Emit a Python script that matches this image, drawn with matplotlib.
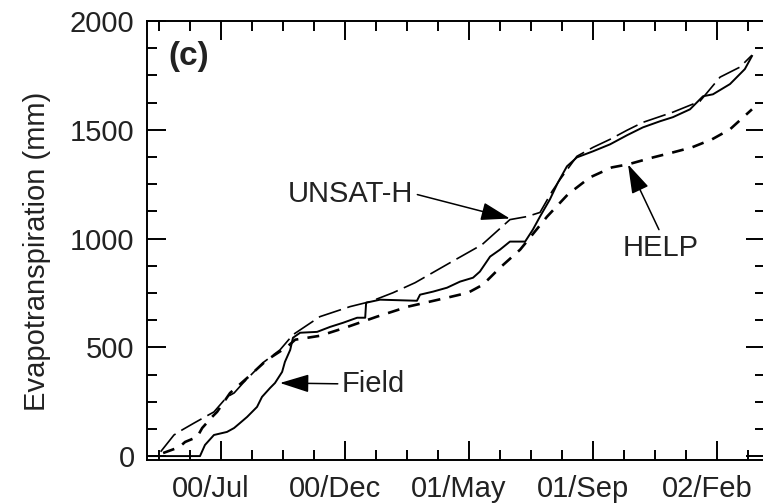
import numpy as np
import matplotlib
matplotlib.use('Agg')
import matplotlib.pyplot as plt
import matplotlib.transforms as mtransforms
from matplotlib.ticker import MultipleLocator

plt.rcParams['font.family'] = ['Liberation Sans', 'DejaVu Sans']

# months counted from 00/Jul (x = 0), cumulative ET in mm
field_t = [-2.29, -0.68, -0.52, -0.23, 0.19, 0.42, 0.61, 0.84, 1.16, 1.32, 1.58, 1.74,
           1.97, 2.06, 2.23, 2.32, 2.55, 3.10, 3.52, 3.94, 4.39, 4.65, 4.68, 5.13, 6.32,
           6.42, 6.84, 7.29, 7.71, 8.13, 8.35, 8.68, 9.0, 9.32, 9.81, 10.06, 10.29, 10.61,
           10.87, 11.16, 11.48, 12.0, 12.55, 13.10, 13.61, 14.16, 14.58, 15.13, 15.55,
           15.87, 16.42, 16.9, 17.13]
field_et = [0, 0, 51, 97, 111, 129, 152, 180, 226, 272, 313, 336,
            387, 433, 488, 544, 567, 571, 594, 613, 636, 636, 705, 719, 714,
            742, 756, 774, 802, 820, 848, 917, 949, 986, 986, 1041, 1101, 1180,
            1258, 1332, 1373, 1401, 1433, 1475, 1511, 1539, 1558, 1594, 1654,
            1663, 1710, 1779, 1839]

unsat_t = [-1.95, -1.52, -1.26, -0.87, -0.23, 0.19, 0.42, 0.71, 1.35, 1.90, 2.32, 3.19,
           4.16, 4.81, 5.55, 6.26, 7.39, 8.42, 9.32, 9.87, 10.29, 10.68, 10.94, 11.48,
           12.0, 12.55, 13.10, 13.61, 14.58, 15.45, 16.1, 16.74, 17.13]
unsat_et = [20, 97, 120, 152, 203, 272, 290, 336, 429, 488, 558, 641,
            687, 710, 751, 797, 889, 972, 1087, 1101, 1120, 1217, 1272, 1378,
            1419, 1456, 1498, 1534, 1581, 1631, 1742, 1788, 1843]

help_t = [-1.87, -1.35, -1.16, -0.77, -0.61, -0.29, -0.13, 0.29, 0.84, 1.48, 2.13, 2.39,
          3.19, 4.0, 5.03, 6.03, 7.29, 7.97, 8.45, 9.0, 9.65, 10.52, 11.19, 11.9,
          12.61, 13.13, 13.94, 14.58, 15.19, 15.84, 16.42, 17.13]
help_et = [14, 41, 65, 88, 129, 180, 203, 290, 359, 442, 502, 535,
           553, 590, 641, 687, 728, 751, 788, 866, 949, 1101, 1203, 1281,
           1327, 1341, 1373, 1396, 1419, 1456, 1502, 1594]

xtick_pos = [0, 4, 8, 12, 16]
xtick_labels = ['00/Jul', '00/Dec', '01/May', '01/Sep', '02/Feb']

fig = plt.figure(figsize=(7.63, 5.04), dpi=100)
ax = fig.add_axes([147 / 763, 44 / 504, 618 / 763, 439 / 504])

ax.plot(field_t, field_et, color='k', lw=1.4)
ax.plot(unsat_t, unsat_et, color='k', lw=1.2, dashes=(14, 4))
ax.plot(help_t, help_et, color='k', lw=1.9, dashes=(4.5, 3.5))

ax.set_xlim(-2.39, 17.55)
ax.set_ylim(-18, 2000)
ax.set_xticks(xtick_pos)
ax.set_xticklabels(xtick_labels)
ax.xaxis.set_minor_locator(MultipleLocator(1))
ax.set_yticks([0, 500, 1000, 1500, 2000])
ax.yaxis.set_minor_locator(MultipleLocator(125))

ax.tick_params(which='both', direction='in', top=True, right=True, width=1.4,
               colors='k', labelcolor='#222222', labelsize=21)
ax.tick_params(which='major', length=13.5, pad=9)
ax.tick_params(which='minor', length=7)
ax.tick_params(axis='x', which='major', pad=11)
for s in ax.spines.values():
    s.set_linewidth(1.4)

# x labels sit a little left of their ticks in the original
shift = mtransforms.ScaledTranslation(-10 / 100, 0, fig.dpi_scale_trans)
for lab in ax.get_xticklabels():
    lab.set_transform(lab.get_transform() + shift)

ax.set_ylabel('Evapotranspiration (mm)', fontsize=21, color='#222222')
ax.yaxis.set_label_coords(-0.155, 0.475)

ax.text(0.035, 0.918, '(c)', transform=ax.transAxes, fontsize=24, fontweight='bold',
        color='#222222', ha='left', va='center')

arr = dict(arrowstyle='-|>,head_length=0.9,head_width=0.28', color='k', lw=1.1,
           mutation_scale=20, shrinkA=1, shrinkB=0)
ax.annotate('Field', xy=(1.9, 336), xytext=(3.9, 332), ha='left', va='center',
            fontsize=21, color='#222222', arrowprops=dict(arr, relpos=(0, 0.5)))
ax.annotate('UNSAT-H', xy=(9.32, 1092), xytext=(6.2, 1207), ha='right', va='center',
            fontsize=21, color='#222222', arrowprops=dict(arr, relpos=(1, 0.5)))
ax.annotate('HELP', xy=(13.13, 1341), xytext=(14.19, 958), ha='center', va='center',
            fontsize=21, color='#222222', arrowprops=dict(arr, relpos=(0.5, 1)))

fig.savefig('out.png', dpi=100)
